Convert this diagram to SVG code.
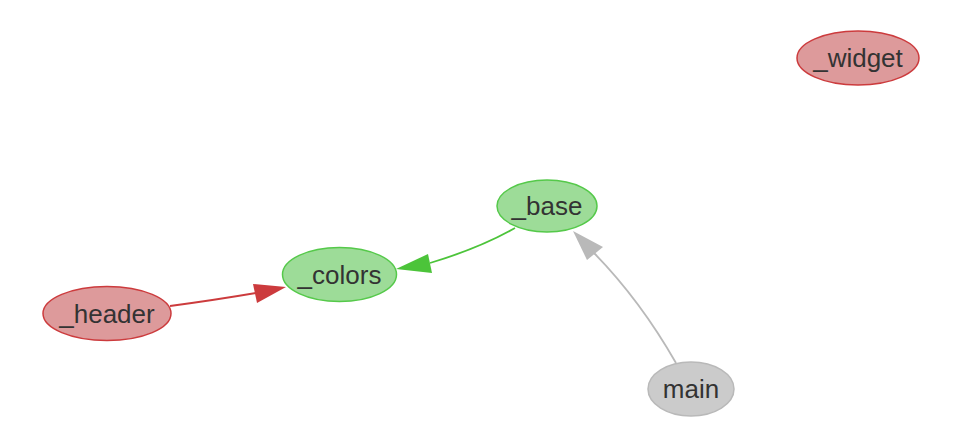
<svg xmlns="http://www.w3.org/2000/svg" width="960" height="437" viewBox="0 0 960 437">
<style>
.lbl{font-family:"Liberation Sans",Arial,sans-serif;font-size:26px;fill:#333;text-anchor:middle;dominant-baseline:central}
.red{fill:#dd9a9b;stroke:#cc3b3d;stroke-width:1.5}
.green{fill:#9ddc98;stroke:#55c94a;stroke-width:1.5}
.gray{fill:#cbcbcb;stroke:#b9b9b9;stroke-width:1.5}
.edge{fill:none;stroke-width:1.8}
</style>
<rect width="960" height="437" fill="#fff"/>
<g id="connectors">
<path class="edge" stroke="#cc3b3d" d="M170,306 Q215,300 256,293"/>
<polygon fill="#cc3b3d" points="286,287 253,284 257,303"/>
<path class="edge" stroke="#4cc43a" d="M515,228 Q480,248 430,263"/>
<polygon fill="#4cc43a" points="396,269 428,254 432,273"/>
<path class="edge" stroke="#b9b9b9" d="M676,363 Q640,300 594,253"/>
<polygon fill="#b9b9b9" points="573,231 587,260 603,247"/>
</g>
<g id="node-widget"><ellipse class="red" cx="858" cy="58" rx="61" ry="27"/><text class="lbl" x="858" y="58">_widget</text></g>
<g id="node-base"><ellipse class="green" cx="547" cy="206" rx="50" ry="26"/><text class="lbl" x="547" y="206">_base</text></g>
<g id="node-colors"><ellipse class="green" cx="339.5" cy="274.5" rx="57" ry="27"/><text class="lbl" x="339.5" y="274.5">_colors</text></g>
<g id="node-header"><ellipse class="red" cx="107" cy="313.5" rx="64" ry="27"/><text class="lbl" x="107" y="313.5">_header</text></g>
<g id="node-main"><ellipse class="gray" cx="691" cy="389" rx="43" ry="27"/><text class="lbl" x="691" y="389">main</text></g>
</svg>
